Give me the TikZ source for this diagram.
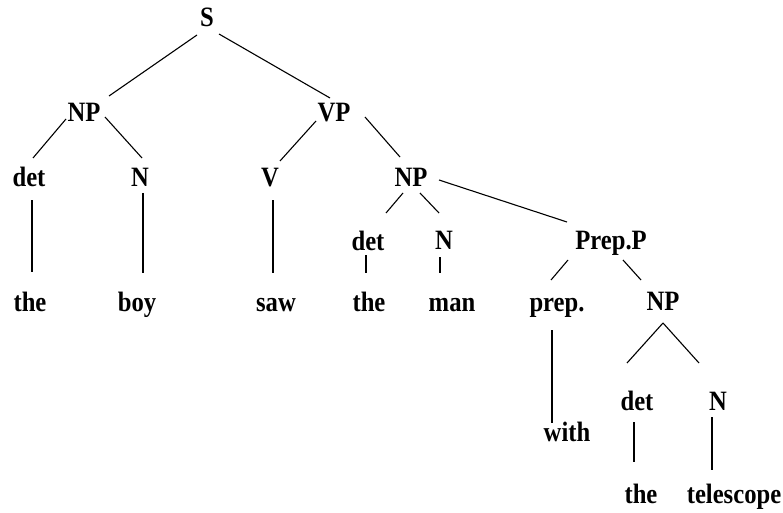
\documentclass[tikz,border=0pt]{standalone}
\usepackage{fontspec}
\setmainfont{Liberation Serif}[FakeStretch=0.88]
\newcommand\lnk[4]{\draw ([shift={(#2)}]#1.base) -- ([shift={(#4)}]#3.base);}
\begin{document}
\begin{tikzpicture}[x=1pt,y=1pt,
  lab/.style={inner sep=0pt, anchor=base, font=\fontsize{28}{30}\selectfont\bfseries},
  every path/.style={line width=1.1pt}]
\useasboundingbox (0,0) rectangle (783,512);
\node[lab] (S) at (207,485) {S};
\node[lab] (NPa) at (84,390) {NP};
\node[lab] (VP) at (334,390) {VP};
\node[lab] (deta) at (29,326) {det};
\node[lab] (Na) at (140,326) {N};
\node[lab] (V) at (270,326) {V};
\node[lab] (NPb) at (411,325) {NP};
\node[lab] (detb) at (368,262) {det};
\node[lab] (Nb) at (444,263) {N};
\node[lab] (PP) at (611,263) {Prep.P};
\node[lab] (thea) at (30,201) {the};
\node[lab] (boy) at (137,201) {boy};
\node[lab] (saw) at (276,201) {saw};
\node[lab] (theb) at (369,201) {the};
\node[lab] (man) at (452,201) {man};
\node[lab] (prep) at (557,201) {prep.};
\node[lab] (NPc) at (663,202) {NP};
\node[lab] (with) at (567,71) {with};
\node[lab] (detc) at (637,102) {det};
\node[lab] (Nc) at (718,102) {N};
\node[lab] (thec) at (641,9) {the};
\node[lab] (tel) at (734,9) {telescope};
\lnk{S}{-10,-8}{NPa}{25,26}
\lnk{S}{12,-7}{VP}{-4,24}
\lnk{NPa}{-18,3}{deta}{4,28}
\lnk{NPa}{21,5}{Na}{2,28}
\lnk{VP}{-18,1}{V}{10,25}
\lnk{VP}{31,5}{NPb}{-11,30}
\lnk{deta}{3,-14}{thea}{2,39}
\lnk{Na}{3,-7}{boy}{6,38}
\lnk{V}{3,-14}{saw}{-3,38}
\lnk{NPb}{-8,-6}{detb}{18,37}
\lnk{NPb}{9,-6}{Nb}{-5,36}
\lnk{NPb}{28,7}{PP}{-44,27}
\lnk{detb}{-2,-5}{theb}{-3,38}
\lnk{Nb}{-4,-8}{man}{-12,38}
\lnk{PP}{-43,-11}{prep}{-6,31}
\lnk{PP}{12,-11}{NPc}{-22,30}
\lnk{prep}{-5,-19}{with}{-15,18}
\lnk{NPc}{0,-13}{detc}{-10,47}
\lnk{NPc}{0,-13}{Nc}{-19,47}
\lnk{detc}{-3,-12}{thec}{-7,41}
\lnk{Nc}{-6,-7}{tel}{-22,33}
\end{tikzpicture}
\end{document}
